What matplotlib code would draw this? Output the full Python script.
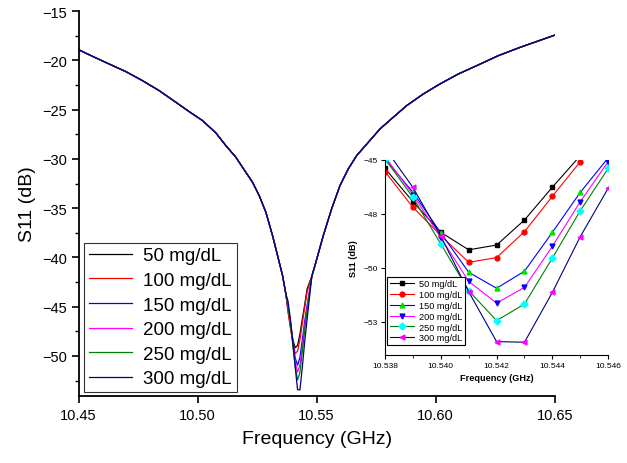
import matplotlib
matplotlib.use('Agg')
import matplotlib.pyplot as plt
from matplotlib.ticker import MultipleLocator, FixedLocator

plt.rcParams['font.family'] = ['Liberation Sans', 'DejaVu Sans']

# wings of the resonance (all six curves lie on top of each other there)
freq_left = [10.450, 10.4559, 10.4629, 10.4699, 10.4769, 10.4839, 10.4909, 10.4965,
             10.5021, 10.5077, 10.5119, 10.5161, 10.5189, 10.5231, 10.5259, 10.5287,
             10.5315, 10.5336, 10.5357, 10.537]
s11_left = [-18.92, -19.60, -20.38, -21.15, -22.07, -23.08, -24.26, -25.21,
            -26.12, -27.37, -28.66, -29.84, -30.86, -32.38, -33.73, -35.42,
            -37.79, -39.81, -41.84, -43.6]
freq_right = [10.548, 10.5493, 10.5528, 10.5563, 10.5598, 10.5633, 10.5668, 10.5717,
              10.5766, 10.5822, 10.5878, 10.5948, 10.6018, 10.6095, 10.6172, 10.6263,
              10.6354, 10.650]
s11_right = [-41.9, -40.83, -37.79, -35.08, -32.72, -31.02, -29.68, -28.32,
             -26.97, -25.78, -24.60, -23.42, -22.40, -21.39, -20.55, -19.53,
             -18.69, -17.45]

# dip region (values of the zoomed plot)
freq_zoom = [10.538, 10.539, 10.540, 10.541, 10.542, 10.543, 10.544, 10.545, 10.546]
s11_50 = [-45.39, -46.93, -48.35, -49.16, -48.94, -47.78, -46.26, -44.80, -43.20]
s11_100 = [-45.54, -47.19, -48.50, -49.74, -49.52, -48.32, -46.68, -45.08, -43.50]
s11_150 = [-44.95, -46.49, -48.38, -50.20, -50.94, -50.15, -48.35, -46.50, -44.90]
s11_200 = [-44.85, -46.60, -48.60, -50.62, -51.63, -50.90, -49.00, -46.93, -45.08]
s11_250 = [-44.95, -46.73, -48.89, -51.05, -52.44, -51.67, -49.54, -47.35, -45.39]
s11_300 = [-44.45, -46.27, -48.53, -51.10, -53.41, -53.44, -51.13, -48.55, -46.31]

labels = ['50 mg/dL', '100 mg/dL', '150 mg/dL', '200 mg/dL', '250 mg/dL', '300 mg/dL']
zoom_data = [s11_50, s11_100, s11_150, s11_200, s11_250, s11_300]
line_colors = ['black', 'red', 'blue', 'magenta', '#008000', '#000080']
marker_colors = ['black', 'red', '#00e000', 'blue', 'cyan', 'magenta']
markers = ['s', 'o', '^', 'v', 'D', '<']

fig = plt.figure(figsize=(6.27, 4.64), dpi=100)

# main plot
ax = fig.add_axes([0.1252, 0.1444, 0.7595, 0.8297])
for i in range(6):
    f = freq_left + freq_zoom + freq_right
    s = s11_left + zoom_data[i] + s11_right
    ax.plot(f, s, color=line_colors[i], lw=0.9, label=labels[i])
ax.set_xlim(10.45, 10.65)
ax.set_ylim(-54.06, -15)
ax.set_xticks([10.45, 10.50, 10.55, 10.60, 10.65])
ax.set_xticklabels(['10.45', '10.50', '10.55', '10.60', '10.65'])
ax.yaxis.set_major_locator(MultipleLocator(5))
ax.yaxis.set_minor_locator(MultipleLocator(2.5))
ax.spines['top'].set_visible(False)
ax.spines['right'].set_visible(False)
ax.spines['left'].set_linewidth(1.3)
ax.spines['bottom'].set_linewidth(1.3)
ax.tick_params(axis='both', which='major', direction='out', length=5, width=1.2, labelsize=10.5)
ax.tick_params(axis='y', which='minor', direction='out', length=3, width=1.0)
ax.set_xlabel('Frequency (GHz)', fontsize=14, labelpad=6)
ax.set_ylabel('S11 (dB)', fontsize=14, labelpad=4)
leg = ax.legend(loc='lower left', bbox_to_anchor=(0.012, 0.01), borderaxespad=0,
                fontsize=13.5, frameon=True, fancybox=False, framealpha=1,
                edgecolor='#333333', handlelength=2.3, handletextpad=0.6,
                labelspacing=0.4, borderpad=0.25)
leg.get_frame().set_linewidth(0.8)

# inset
axi = fig.add_axes([0.614, 0.2328, 0.356, 0.4203])
for i in range(6):
    axi.plot(freq_zoom, zoom_data[i], color=line_colors[i], lw=0.8,
             marker=markers[i], markersize=3.5, markerfacecolor=marker_colors[i],
             markeredgecolor=marker_colors[i], label=labels[i])
axi.set_xlim(10.538, 10.546)
axi.set_ylim(-54.03, -45)
axi.set_xticks([10.538, 10.540, 10.542, 10.544, 10.546])
axi.set_xticklabels(['10.538', '10.540', '10.542', '10.544', '10.546'])
axi.xaxis.set_minor_locator(FixedLocator([10.539, 10.541, 10.543, 10.545]))
axi.set_yticks([-45, -47.5, -50, -52.5])
axi.set_yticklabels(['\u221245', '\u221248', '\u221250', '\u221253'])
axi.spines['top'].set_visible(False)
axi.spines['right'].set_visible(False)
axi.tick_params(axis='both', which='major', direction='out', length=3, width=0.8, labelsize=6, pad=2)
axi.tick_params(axis='x', which='minor', direction='out', length=2, width=0.6)
axi.set_xlabel('Frequency (GHz)', fontsize=6.6, fontweight='bold', labelpad=3)
axi.set_ylabel('S11 (dB)', fontsize=6.6, fontweight='bold', labelpad=4)
legi = axi.legend(loc='lower left', bbox_to_anchor=(0.01, 0.05), borderaxespad=0,
                  fontsize=6.6, frameon=True, fancybox=False, framealpha=1,
                  edgecolor='black', handlelength=2.6, handletextpad=0.6,
                  labelspacing=0.2, borderpad=0.3)
legi.get_frame().set_linewidth(0.8)

fig.savefig('out.png', dpi=100)
